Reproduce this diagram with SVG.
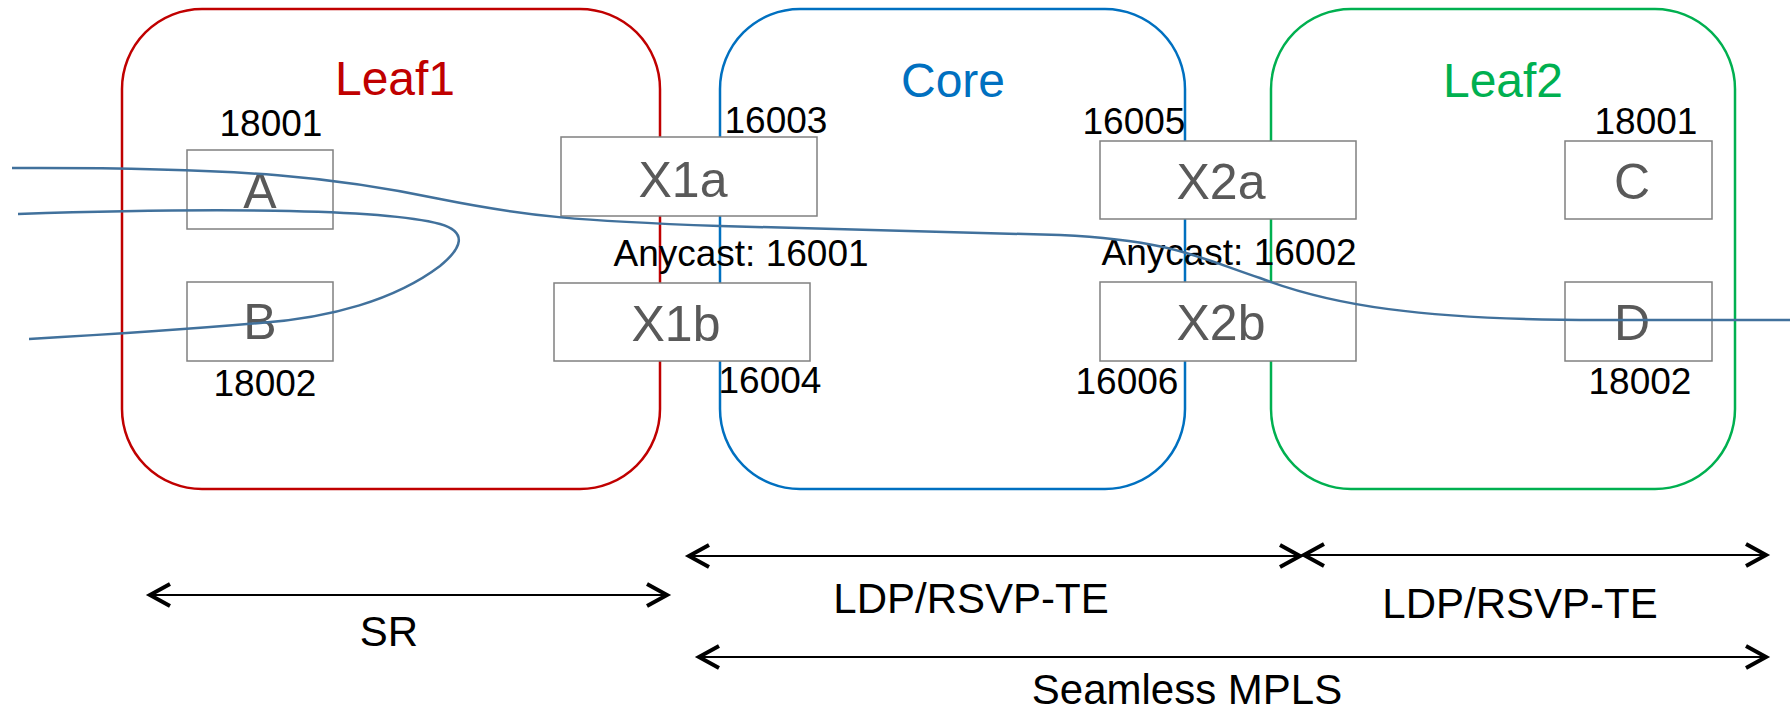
<svg xmlns="http://www.w3.org/2000/svg" width="1790" height="712" viewBox="0 0 1790 712">
<style>
text{font-family:"Liberation Sans",Arial,sans-serif;}
.zone{fill:none;stroke-width:2.5;}
.title{font-size:48px;text-anchor:middle;}
.box{fill:#fff;stroke:#808080;stroke-width:1.5;}
.blabel{font-size:50px;fill:#595959;text-anchor:middle;}
.num{font-size:37px;fill:#000;text-anchor:middle;}
.proto{font-size:42px;fill:#000;text-anchor:middle;}
.flow{fill:none;stroke:#41719C;stroke-width:2.5;}
.span{fill:none;stroke:#000;stroke-width:2;marker-start:url(#chev);marker-end:url(#chev);}
</style>
<defs>
<marker id="chev" markerUnits="userSpaceOnUse" orient="auto-start-reverse" markerWidth="30" markerHeight="30" refX="0" refY="0" viewBox="-25 -15 30 30" style="overflow:visible">
<path d="M-20,-11 L0,0 L-20,11" fill="none" stroke="#000" stroke-width="4"/>
</marker>
</defs>

<g id="leaf1">
<rect class="zone" x="122" y="9" width="538" height="480" rx="80" ry="80" stroke="#C00000"/>
<text class="title" x="395" y="95" fill="#C00000">Leaf1</text>
</g>
<g id="core">
<rect class="zone" x="720" y="9" width="465" height="480" rx="80" ry="80" stroke="#0070C0"/>
<text class="title" x="953" y="97" fill="#0070C0">Core</text>
</g>
<g id="leaf2">
<rect class="zone" x="1271" y="9" width="464" height="480" rx="80" ry="80" stroke="#00B050"/>
<text class="title" x="1503" y="97" fill="#00B050">Leaf2</text>
</g>

<g id="node-A">
<rect class="box" x="187" y="150" width="146" height="79"/>
<text class="blabel" x="260" y="208">A</text>
<text class="num" x="271" y="136">18001</text>
</g>
<g id="node-B">
<rect class="box" x="187" y="282" width="146" height="79"/>
<text class="blabel" x="260" y="339">B</text>
<text class="num" x="265" y="396">18002</text>
</g>
<g id="node-X1a">
<rect class="box" x="561" y="137" width="256" height="79"/>
<text class="blabel" x="683" y="197">X1a</text>
<text class="num" x="776" y="133">16003</text>
</g>
<g id="node-X1b">
<rect class="box" x="554" y="283" width="256" height="78"/>
<text class="blabel" x="676" y="341">X1b</text>
<text class="num" x="770" y="393">16004</text>
</g>
<g id="anycast1">
<text class="num" x="741" y="266">Anycast: 16001</text>
</g>
<g id="node-X2a">
<rect class="box" x="1100" y="141" width="256" height="78"/>
<text class="blabel" x="1221" y="199">X2a</text>
<text class="num" x="1134" y="134">16005</text>
</g>
<g id="node-X2b">
<rect class="box" x="1100" y="282" width="256" height="79"/>
<text class="blabel" x="1221" y="340">X2b</text>
<text class="num" x="1127" y="394">16006</text>
</g>
<g id="anycast2">
<text class="num" x="1229" y="265">Anycast: 16002</text>
</g>
<g id="node-C">
<rect class="box" x="1565" y="141" width="147" height="78"/>
<text class="blabel" x="1632" y="199">C</text>
<text class="num" x="1646" y="134">18001</text>
</g>
<g id="node-D">
<rect class="box" x="1565" y="282" width="147" height="79"/>
<text class="blabel" x="1632" y="340">D</text>
<text class="num" x="1640" y="394">18002</text>
</g>

<g id="connectors">
<path class="flow" d="M12,168 C250,167 340,178 440,199 C530,217 580,221 720,226 L1060,235 C1170,240 1200,258 1260,278 C1330,305 1420,320 1600,320 L1790,320"/>
<path class="flow" d="M18,214 C200,208 380,208 440,224 C468,232 462,248 440,266 C395,300 330,318 260,323 C180,330 100,335 29,339"/>
<line class="span" x1="150" y1="595" x2="667" y2="595"/>
<line class="span" x1="689" y1="556" x2="1300" y2="556"/>
<line class="span" x1="1304" y1="555" x2="1766" y2="555"/>
<line class="span" x1="699" y1="657" x2="1766" y2="657"/>
</g>

<g id="labels">
<text class="proto" x="389" y="646">SR</text>
<text class="proto" x="971" y="613">LDP/RSVP-TE</text>
<text class="proto" x="1520" y="618">LDP/RSVP-TE</text>
<text class="proto" x="1187" y="704">Seamless MPLS</text>
</g>
</svg>
